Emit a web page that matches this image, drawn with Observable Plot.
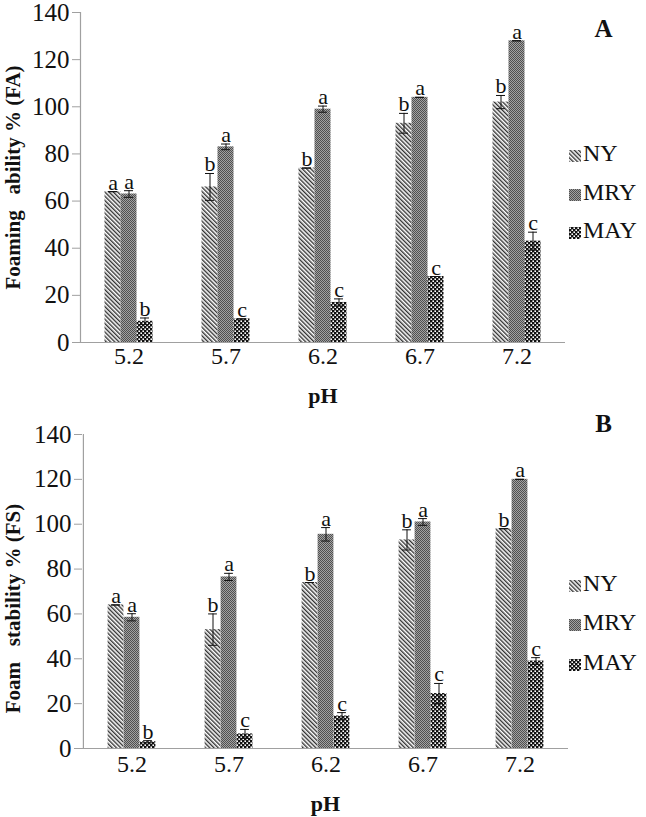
<!DOCTYPE html>
<html><head><meta charset="utf-8">
<script src="https://cdn.jsdelivr.net/npm/d3@7"></script>
<script src="https://cdn.jsdelivr.net/npm/@observablehq/plot@0.6"></script>
<style>
body{margin:0;background:#fff;font-family:"Liberation Serif",serif;}
#wrap{position:relative;width:646px;height:817px;overflow:hidden;background:#fff}
.panel{position:absolute;left:0}
.row{position:absolute;left:569px;display:flex;align-items:center;white-space:nowrap;font-size:24px;height:26px;color:#111;line-height:26px;font-family:"Liberation Serif",serif}
.sw{width:12px;height:12px;margin-right:2px;margin-top:5px}
</style></head><body>
<svg width="0" height="0" style="position:absolute">
<defs>
<pattern id="pNY" width="3" height="3" patternUnits="userSpaceOnUse" patternTransform="rotate(-45)">
<rect width="3" height="3" fill="#fff"/><rect width="1.4" height="3" fill="#333"/></pattern>
<pattern id="pMRY" width="2" height="2" patternUnits="userSpaceOnUse">
<rect width="2" height="2" fill="#a2a2a2"/><rect width="1" height="1" fill="#505050"/><rect x="1" y="1" width="1" height="1" fill="#505050"/></pattern>
<pattern id="pMAY" width="4" height="4" patternUnits="userSpaceOnUse">
<rect width="4" height="4" fill="#111"/><rect x="0.4" y="0.4" width="1.6" height="1.6" fill="#fff"/><rect x="2.4" y="2.4" width="1.6" height="1.6" fill="#fff"/></pattern>
</defs></svg>
<div id="wrap">
<div id="panelB" class="panel" style="top:400px"></div>
<div id="panelA" class="panel" style="top:0"></div>
<div id="legA"></div>
<div id="legB"></div>
</div>
<script>
const pH = ["5.2", "5.7", "6.2", "6.7", "7.2"];
const series = ["NY", "MRY", "MAY"];
const yTicks = [0, 20, 40, 60, 80, 100, 120, 140];

// Panel A – Foaming ability % (FA)
const faNY = [64, 66, 74, 93, 102];
const faNYErr = [0, 5.7, 0, 4.2, 2.8];
const faMRY = [63, 83, 99, 104, 128];
const faMRYErr = [1.4, 1.2, 1.3, 0, 0];
const faMAY = [9, 10, 17, 28, 43];
const faMAYErr = [1.4, 0, 1.5, 0, 3.8];
const faNYSig = ["a", "b", "b", "b", "b"];
const faMRYSig = ["a", "a", "a", "a", "a"];
const faMAYSig = ["b", "c", "c", "c", "c"];

// Panel B – Foam stability % (FS)
const fsNY = [64, 53, 74, 93, 98];
const fsNYErr = [0, 7, 0, 4.5, 0];
const fsMRY = [58.5, 76.5, 95.5, 101, 120];
const fsMRYErr = [1.6, 1.6, 3, 1.5, 0];
const fsMAY = [3, 6.5, 14.5, 24.5, 39];
const fsMAYErr = [0.5, 2, 1.5, 4.5, 1.5];
const fsNYSig = ["a", "b", "b", "b", "b"];
const fsMRYSig = ["a", "a", "a", "a", "a"];
const fsMAYSig = ["b", "c", "c", "c", "c"];

const fills = {NY: "url(#pNY)", MRY: "url(#pMRY)", MAY: "url(#pMAY)"};
const offsets = {NY: -16, MRY: 0, MAY: 16};

function panel(cfg) {
  const width = 646;
  const bw = (width - cfg.marginLeft - cfg.marginRight) / pH.length;
  const barW = 16, capW = 9;
  const vals = {NY: [cfg.ny, cfg.nyE, cfg.nyS], MRY: [cfg.mry, cfg.mryE, cfg.mryS], MAY: [cfg.may, cfg.mayE, cfg.mayS]};
  const marks = [];
  for (const s of series) {
    const [v, e, sig] = vals[s];
    const d = pH.map((p, i) => ({pH: p, series: s, value: v[i], err: e[i], sig: sig[i]}));
    const dx = offsets[s];
    marks.push(
      Plot.barY(d, {x: "pH", y: "value", fill: fills[s], insetLeft: (bw - barW) / 2, insetRight: (bw - barW) / 2, dx}),
      Plot.ruleX(d, {x: "pH", y1: r => r.value - r.err, y2: r => r.value + r.err, dx, stroke: "#111"}),
      Plot.tickY(d, {x: "pH", y: r => r.value + r.err, insetLeft: (bw - capW) / 2, insetRight: (bw - capW) / 2, dx, stroke: "#111"}),
      Plot.tickY(d, {x: "pH", y: r => r.value - r.err, insetLeft: (bw - capW) / 2, insetRight: (bw - capW) / 2, dx, stroke: "#111"}),
      Plot.text(d, {x: "pH", y: r => r.value + r.err, text: "sig", dx, dy: -2, lineAnchor: "bottom", fontSize: 22, fill: "#111"})
    );
  }
  return Plot.plot({
    width, height: cfg.height,
    marginLeft: cfg.marginLeft, marginRight: cfg.marginRight, marginTop: cfg.marginTop, marginBottom: cfg.marginBottom,
    style: {fontFamily: "'Liberation Serif', serif", fontSize: "24px", background: "transparent", color: "#111", overflow: "visible"},
    x: {domain: pH, padding: 0},
    y: {domain: [0, 140]},
    marks: [
      Plot.axisY({ticks: yTicks, tickSize: 8, tickPadding: 3, fontSize: 25, stroke: "#a0a0a0", fill: "#111", label: null}),
      Plot.axisX({tickSize: 0, tickPadding: cfg.xPad, fontSize: 24, fill: "#111", label: null}),
      ...marks,
      Plot.ruleY([0], {stroke: "#a0a0a0", strokeWidth: 1.2}),
      Plot.ruleX([pH[0]], {y1: 0, y2: 140, dx: -bw / 2, stroke: "#a0a0a0", strokeWidth: 1.2}),
      Plot.text([cfg.yLabel], {frameAnchor: "left", rotate: -90, dx: cfg.yLabelDx, dy: cfg.yLabelDy, fontWeight: "bold", fontSize: 21, textAnchor: "middle", lineAnchor: "middle", fill: "#111"}),
      Plot.text(["pH"], {frameAnchor: "bottom", dy: cfg.xLabelDy, fontWeight: "bold", fontSize: 22, lineAnchor: "middle", fill: "#111"}),
      Plot.text([cfg.tag], {frameAnchor: "top-right", dx: cfg.tagDx, dy: cfg.tagDy, fontWeight: "bold", fontSize: 25, textAnchor: "middle", lineAnchor: "middle", fill: "#111"})
    ]
  });
}

document.getElementById("panelA").append(panel({
  ny: faNY, nyE: faNYErr, nyS: faNYSig, mry: faMRY, mryE: faMRYErr, mryS: faMRYSig, may: faMAY, mayE: faMAYErr, mayS: faMAYSig,
  height: 400, marginTop: 12, marginBottom: 58, marginLeft: 80, marginRight: 81, xPad: 4,
  yLabel: "Foaming\u00a0\u00a0 ability\u00a0% (FA)", yLabelDx: -67, yLabelDy: 0, xLabelDy: 53, tag: "A", tagDx: 38, tagDy: 16
}));
document.getElementById("panelB").append(panel({
  ny: fsNY, nyE: fsNYErr, nyS: fsNYSig, mry: fsMRY, mryE: fsMRYErr, mryS: fsMRYSig, may: fsMAY, mayE: fsMAYErr, mayS: fsMAYSig,
  height: 417, marginTop: 34, marginBottom: 69, marginLeft: 82, marginRight: 78, xPad: 6,
  yLabel: "Foam\u00a0\u00a0 stability\u00a0% (FS)", yLabelDx: -69, yLabelDy: 17, xLabelDy: 55, tag: "B", tagDx: 35, tagDy: -11
}));

function legend(id, centers) {
  const el = document.getElementById(id);
  series.forEach((s, i) => {
    const row = document.createElement("div");
    row.className = "row";
    row.style.top = (centers[i] - 13) + "px";
    row.innerHTML = `<svg class="sw" width="12" height="12"><rect width="12" height="12" fill="${fills[s]}"/></svg><span>${s}</span>`;
    el.append(row);
  });
}
legend("legA", [153, 192, 230]);
legend("legB", [583, 622, 662]);
</script>
</body></html>
